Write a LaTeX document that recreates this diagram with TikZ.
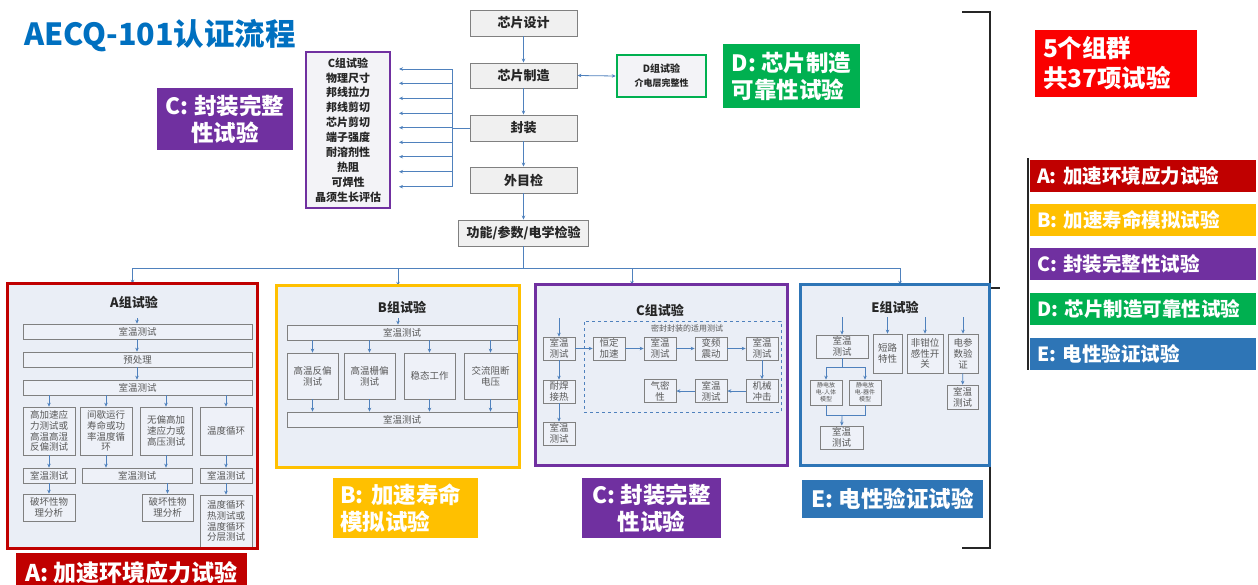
\documentclass[tikz,border=0pt]{standalone}
\usepackage{fontspec}
\setmainfont{Noto Sans CJK SC}
\usetikzlibrary{arrows.meta}
\definecolor{arrblue}{RGB}{79,129,189}
\definecolor{boxgray}{RGB}{128,128,128}
\definecolor{flowfill}{RGB}{240,240,240}
\definecolor{grpfill}{RGB}{234,238,246}
\definecolor{innerfill}{RGB}{238,241,248}
\definecolor{txtgray}{RGB}{89,89,89}
\definecolor{colA}{RGB}{192,0,0}
\definecolor{colB}{RGB}{255,192,0}
\definecolor{colC}{RGB}{112,48,160}
\definecolor{colD}{RGB}{0,176,80}
\definecolor{colE}{RGB}{46,117,182}
\definecolor{colRed}{RGB}{250,0,0}
\definecolor{titleblue}{RGB}{0,112,192}
\definecolor{clistfill}{RGB}{243,243,247}
\tikzset{
  sz/.style 2 args={minimum width=#1pt, minimum height=#2pt},
  flow/.style={draw=boxgray, line width=0.9pt, fill=flowfill, inner sep=0pt, font=\bfseries\fontsize{13}{15}\selectfont, text=black!85},
  ib/.style={draw=boxgray, line width=0.7pt, fill=innerfill, inner sep=0pt, align=center, font=\fontsize{9.5}{10.8}\selectfont, text=txtgray},
  grp/.style={fill=grpfill, inner sep=0pt},
  gtitle/.style={font=\bfseries\fontsize{13}{15}\selectfont, text=black!85, inner sep=0pt},
  lab/.style={inner sep=0pt, text=white, font=\bfseries\fontsize{22.5}{27}\selectfont},
  legbar/.style={inner sep=0pt, inner xsep=7pt, minimum height=32pt, text width=212pt, align=left, text=white, font=\bfseries\fontsize{19.5}{22}\selectfont},
  arr/.style={-{Stealth[length=4pt,width=3.5pt]}, draw=arrblue, line width=0.8pt},
  ln/.style={draw=arrblue, line width=0.8pt},
}
\begin{document}
\begin{tikzpicture}[x=1pt,y=-1pt]
\useasboundingbox[fill=white] (0,0) rectangle (1258,584);

% title
\node[anchor=west, font=\bfseries\fontsize{30.5}{33}\selectfont, text=titleblue, inner sep=0pt] (title) at (24,36) {AECQ-101认证流程};

% central flow
\node[flow, sz={107}{26}] (d1) at (523.5,23) {芯片设计};
\node[flow, sz={107}{25}] (d2) at (523.5,75.5) {芯片制造};
\node[flow, sz={107}{26}] (d3) at (523.5,128) {封装};
\node[flow, sz={107}{26}] (d4) at (523.5,180) {外目检};
\node[flow, sz={130}{26}] (d5) at (523.5,233) {功能/参数/电学检验};
\draw[arr] (d1) -- (d2);
\draw[arr] (d2) -- (d3);
\draw[arr] (d3) -- (d4);
\draw[arr] (d4) -- (d5);

% C list
\node[draw=colC, line width=2.5pt, fill=clistfill, sz={84}{156}, inner sep=0pt, align=center,
      font=\bfseries\fontsize{11}{14.9}\selectfont, text=black!85] (clist) at (348,130)
  {C组试验\\物理尺寸\\邦线拉力\\邦线剪切\\芯片剪切\\端子强度\\耐溶剂性\\热阻\\可焊性\\晶须生长评估};
\coordinate (vt) at (452,69);
\coordinate (vb) at (452,186.7);
\draw[ln] (vt) -- (vb);
\draw[ln] (d3.west) -- (d3.west -| vt);
\foreach \yy in {69,83.3,98.3,113.3,127.7,142.3,156.7,171.7,186.7}
  \draw[arr] (452,\yy) -- (399,\yy);

% D box
\node[draw=colD, line width=2.5pt, fill=clistfill, sz={89}{42}, inner sep=0pt, align=center,
      font=\bfseries\fontsize{10}{14}\selectfont, text=black!85] (dbox) at (661.5,76)
  {D组试验\\{\fontsize{9}{12}\selectfont 介电层完整性}};
\draw[draw=arrblue, line width=0.8pt, {Stealth[length=4pt,width=3.5pt]}-{Stealth[length=4pt,width=3.5pt]}] (d2.east) -- (dbox.west);

% labels
\node[lab, fill=colC, sz={136}{62}, align=center] (labC1) at (225,119) {C: 封装完整\\性试验};
\node[lab, fill=colD, sz={137}{64}, align=left] (labD) at (791.5,76) {D: 芯片制造\\可靠性试验};
\node[lab, fill=colRed, sz={162}{67}, align=left, text width=146pt, font=\bfseries\fontsize{24.5}{30}\selectfont] (labN) at (1116,63.5) {5个组群\\共37项试验};
\node[lab, fill=colB, sz={145}{60}, align=left, text width=131pt] (labB) at (405.5,508) {B: 加速寿命\\模拟试验};
\node[lab, fill=colC, sz={139}{60}, align=center] (labC2) at (651.5,508) {C: 封装完整\\性试验};
\node[lab, fill=colE, sz={181}{38}] (labE) at (892.5,499) {E: 电性验证试验};
\node[lab, fill=colA, sz={231}{39}, font=\bfseries\fontsize{23}{27}\selectfont] (labA) at (131.5,572.5) {A: 加速环境应力试验};

% bracket
\coordinate (bt) at (962,12);
\coordinate (btr) at (990,12);
\coordinate (bbr) at (990,548);
\coordinate (bb) at (962,548);
\coordinate (bm) at (990,288);
\coordinate (bmr) at (1000,288);
\draw[line width=1.5pt, black!85] (bt) -- (btr) -- (bbr) -- (bb);
\draw[line width=1.2pt, black!85] (bm) -- (bmr);

% legend
\coordinate (lgt) at (1028,158);
\coordinate (lgb) at (1028,370);
\node[legbar, fill=colA] (lA) at (1143,176) {A: 加速环境应力试验};
\node[legbar, fill=colB] (lB) at (1143,219.5) {B: 加速寿命模拟试验};
\node[legbar, fill=colC] (lC) at (1143,264) {C: 封装完整性试验};
\node[legbar, fill=colD] (lD) at (1143,309) {D: 芯片制造可靠性试验};
\node[legbar, fill=colE] (lE) at (1143,353.5) {E: 电性验证试验};
\draw[line width=2.5pt, black!85] (lgt) -- (lgb);

% group boxes (fill)
\node[grp, sz={249}{264}] (gA) at (132.5,416) {};
\node[grp, sz={242}{181}] (gB) at (398,376.5) {};
\node[grp, sz={251}{180}] (gC) at (661.5,375) {};
\node[grp, sz={188}{180}] (gE) at (895,375) {};

% distribution
\coordinate (hub) at (523.5,268);
\coordinate (hA) at (132.5,268);
\coordinate (hB) at (398,268);
\coordinate (hC) at (632,268);
\coordinate (hE) at (900,268);
\draw[ln] (d5) -- (hub);
\draw[ln] (hA) -- (hE);
\draw[arr] (hA) -- (gA.north -| hA);
\draw[arr] (hB) -- (gB.north -| hB);
\draw[arr] (hC) -- (gC.north -| hC);
\draw[arr] (hE) -- (gE.north -| hE);

% ---------- Group A ----------
\node[gtitle] (tA) at (134,302) {A组试验};
\coordinate (aT) at (137,318);
\node[ib, sz={229}{15}] (a1) at (137.5,331.5) {室温测试};
\node[ib, sz={229}{15}] (a2) at (137.5,359.5) {预处理};
\node[ib, sz={229}{15}] (a3) at (137.5,387.5) {室温测试};
\node[ib, sz={52}{48}] (a4) at (49,431) {高加速应\\力测试或\\高温高湿\\反偏测试};
\node[ib, sz={52}{48}] (a5) at (106,431) {间歇运行\\寿命或功\\率温度循\\环};
\node[ib, sz={52}{48}] (a6) at (166,431) {无偏高加\\速应力或\\高压测试};
\node[ib, sz={52}{48}] (a7) at (226,431) {温度循环};
\node[ib, sz={52}{15}] (a8) at (49,475.5) {室温测试};
\node[ib, sz={110}{15}] (a9) at (137,475.5) {室温测试};
\node[ib, sz={52}{15}] (a10) at (226,475.5) {室温测试};
\node[ib, sz={52}{27}] (a11) at (49,507.5) {破坏性物\\理分析};
\node[ib, sz={51}{27}] (a12) at (167.5,507.5) {破坏性物\\理分析};
\node[ib, sz={52}{52}] (a13) at (226,521) {温度循环\\热测试或\\温度循环\\分层测试};
\draw[arr] (aT) -- (a1.north -| aT);
\draw[arr] (a1.south -| aT) -- (a2.north -| aT);
\draw[arr] (a2.south -| aT) -- (a3.north -| aT);
\draw[arr] (a3.south -| a4) -- (a4);
\draw[arr] (a3.south -| a5) -- (a5);
\draw[arr] (a3.south -| a6) -- (a6);
\draw[arr] (a3.south -| a7) -- (a7);
\draw[arr] (a4) -- (a8);
\draw[arr] (a5.south) -- (a9.north -| a5);
\draw[arr] (a6.south) -- (a9.north -| a6);
\draw[arr] (a7) -- (a10);
\draw[arr] (a8) -- (a11);
\draw[arr] (a9.south -| a12) -- (a12);
\draw[arr] (a10) -- (a13);

% ---------- Group B ----------
\node[gtitle] (tB) at (402,307) {B组试验};
\coordinate (bT) at (398,318);
\node[ib, sz={230}{15}] (b1) at (402,332.5) {室温测试};
\node[ib, sz={51}{46}] (b2) at (312.5,376) {高温反偏\\测试};
\node[ib, sz={51}{46}] (b3) at (369.5,376) {高温栅偏\\测试};
\node[ib, sz={51}{46}] (b4) at (429.5,376) {稳态工作};
\node[ib, sz={53}{46}] (b5) at (490.5,376) {交流阻断\\电压};
\node[ib, sz={230}{15}] (b6) at (402,419.5) {室温测试};
\draw[arr] (bT) -- (b1.north -| bT);
\foreach \n in {b2,b3,b4,b5} {
  \draw[arr] (b1.south -| \n) -- (\n);
  \draw[arr] (\n) -- (b6.north -| \n);
}

% ---------- Group C ----------
\node[gtitle] (tC) at (660,310) {C组试验};
\node[draw=arrblue, dashed, line width=0.9pt, sz={197}{91}, inner sep=0pt] (dash) at (682.5,366.5) {};
\node[font=\fontsize{8}{9}\selectfont, text=txtgray, inner sep=0pt] (dashlab) at (687,328) {密封封装的适用测试};
\coordinate (cT) at (559,318);
\node[ib, sz={32}{23}] (c1) at (559,348.5) {室温\\测试};
\node[ib, sz={32}{23}] (c2) at (559,391.5) {耐焊\\接热};
\node[ib, sz={32}{23}] (c3) at (559,433.5) {室温\\测试};
\node[ib, sz={32}{23}] (c4) at (609,348.5) {恒定\\加速};
\node[ib, sz={32}{23}] (c5) at (660,348.5) {室温\\测试};
\node[ib, sz={32}{23}] (c6) at (711,348.5) {变频\\震动};
\node[ib, sz={32}{23}] (c7) at (762,348.5) {室温\\测试};
\node[ib, sz={32}{23}] (c8) at (660,391) {气密\\性};
\node[ib, sz={32}{23}] (c9) at (711,391) {室温\\测试};
\node[ib, sz={32}{23}] (c10) at (762,391) {机械\\冲击};
\draw[arr] (cT) -- (c1);
\draw[arr] (c1) -- (c2);
\draw[arr] (c2) -- (c3);
\draw[arr] (c1) -- (c4);
\draw[arr] (c4) -- (c5);
\draw[arr] (c5) -- (c6);
\draw[arr] (c6) -- (c7);
\draw[arr] (c7) -- (c10);
\draw[arr] (c10) -- (c9);
\draw[arr] (c9) -- (c8);

% ---------- Group E ----------
\node[gtitle] (tE) at (895,307) {E组试验};
\node[ib, sz={52}{23}] (e1) at (842,346.5) {室温\\测试};
\node[ib, sz={29}{39}] (e2) at (887.5,353.5) {短路\\特性};
\node[ib, sz={36}{39}] (e3) at (925,353.5) {非钳位\\感性开\\关};
\node[ib, sz={30}{39}] (e4) at (963,353.5) {电参\\数验\\证};
\node[ib, sz={32}{25}, font=\fontsize{6}{7.2}\selectfont] (e5) at (826,392.5) {静电放\\电-人体\\模型};
\node[ib, sz={32}{25}, font=\fontsize{6}{7.2}\selectfont] (e6) at (865,392.5) {静电放\\电-器件\\模型};
\node[ib, sz={43}{23}] (e7) at (841.5,437.5) {室温\\测试};
\node[ib, sz={31}{24}] (e8) at (962.5,397) {室温\\测试};
\coordinate (eT1) at (842,317);
\coordinate (eT2) at (887.5,317);
\coordinate (eT3) at (925,317);
\coordinate (eT4) at (963,317);
\draw[arr] (eT1) -- (e1);
\draw[arr] (eT2) -- (e2);
\draw[arr] (eT3) -- (e3);
\draw[arr] (eT4) -- (e4);
\coordinate (eS) at (842,367);
\coordinate (eSL) at (826,367);
\coordinate (eSR) at (865,367);
\draw[ln] (e1) -- (eS);
\draw[ln] (eSL) -- (eSR);
\draw[arr] (eSL) -- (e5);
\draw[arr] (eSR) -- (e6);
\coordinate (eJ) at (842,415);
\coordinate (eJL) at (826,415);
\coordinate (eJR) at (865,415);
\draw[ln] (e5) -- (eJL) -- (eJR) -- (e6);
\draw[arr] (eJ) -- (e7);
\draw[arr] (e4) -- (e8);

% group borders on top
\draw[colA, line width=3pt] (gA.north west) rectangle (gA.south east);
\draw[colB, line width=3pt] (gB.north west) rectangle (gB.south east);
\draw[colC, line width=3pt] (gC.north west) rectangle (gC.south east);
\draw[colE, line width=3pt] (gE.north west) rectangle (gE.south east);
\end{tikzpicture}
\end{document}
